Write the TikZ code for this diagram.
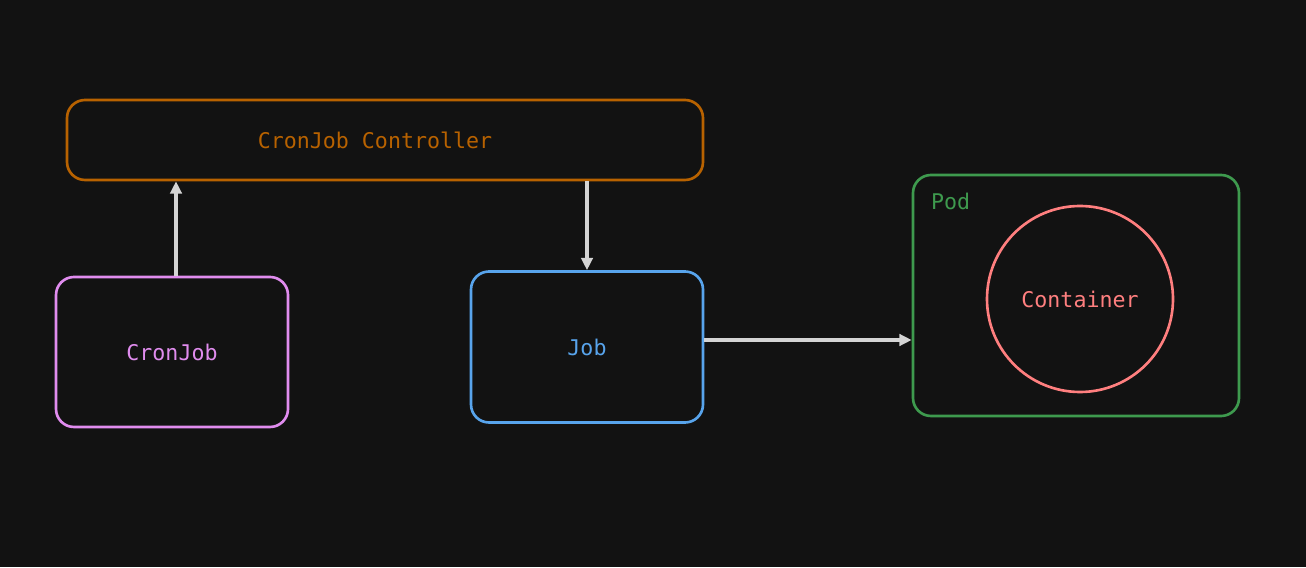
\documentclass[tikz,border=0pt]{standalone}
\usepackage{fontspec}
\setmonofont{DejaVu Sans Mono}
\usepackage{tikz}
\usetikzlibrary{arrows.meta, positioning}

\definecolor{bgdark}{HTML}{121212}
\definecolor{ctrlorange}{HTML}{B86200}
\definecolor{cronpink}{HTML}{E08CEE}
\definecolor{jobblue}{HTML}{58A4EC}
\definecolor{podgreen}{HTML}{3E9A4E}
\definecolor{contred}{HTML}{FF7F7F}
\definecolor{arrowgrey}{HTML}{D4D4D4}

\begin{document}
\begin{tikzpicture}[every node/.style={font=\ttfamily\fontsize{12.3}{14}\selectfont},
  box/.style={draw, rectangle, rounded corners=0.36cm, line width=1.5pt},
  link/.style={draw=arrowgrey, line width=2pt, -{Triangle[length=7pt,width=6.5pt]}}]
% Fondo
\fill[bgdark] (0,0) rectangle (26.12,11.34);
\useasboundingbox (0,0) rectangle (26.12,11.34);

% CronJob Controller
\node (controller) at (7.70,8.54) [box, draw=ctrlorange, text=ctrlorange, minimum width=12.72cm, minimum height=1.6cm] {\hspace*{-0.4cm}CronJob Controller};

% CronJob
\node (cronjob) at (3.44,4.30) [box, draw=cronpink, text=cronpink, minimum width=4.64cm, minimum height=3.0cm] {CronJob};

% Job
\node (job) at (11.74,4.40) [box, draw=jobblue, text=jobblue, minimum width=4.64cm, minimum height=3.02cm] {Job};

% Pod
\node (pod) at (21.52,5.43) [box, draw=podgreen, minimum width=6.52cm, minimum height=4.82cm] {};
\node (podlabel) at (18.50,7.32) [anchor=west, text=podgreen] {Pod};

% Container
\node (container) at (21.60,5.36) [draw=contred, circle, line width=1.5pt, minimum size=3.72cm, text=contred] {Container};

% Flechas
\draw[link] ([xshift=0.08cm]cronjob.north) -- ([xshift=0.08cm]cronjob.north |- controller.south);
\draw[link] (controller.south -| job.north) -- (job.north);
\draw[link] ([yshift=0.14cm]job.east) -- ([yshift=0.14cm]job.east -| pod.west);
\end{tikzpicture}
\end{document}
